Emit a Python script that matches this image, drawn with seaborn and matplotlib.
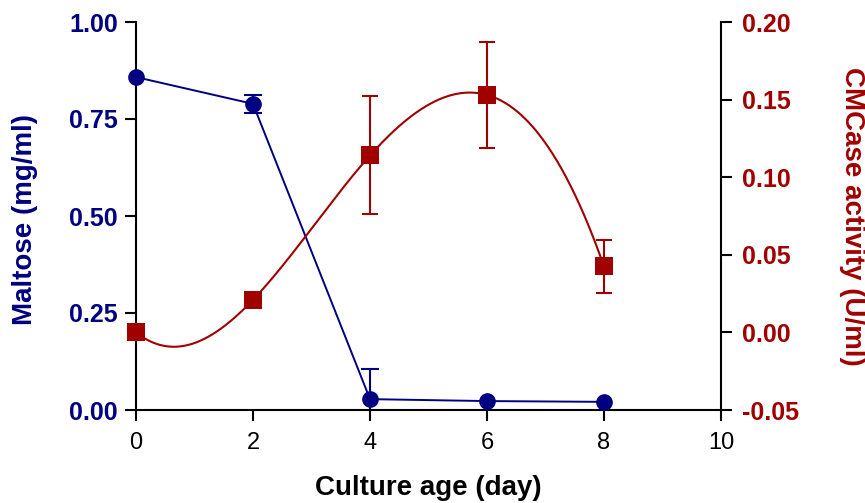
import matplotlib
matplotlib.use("Agg")
import matplotlib.pyplot as plt
import numpy as np
import pandas as pd
import seaborn as sns

# values
days = [0, 2, 4, 6, 8]
maltose = [0.858, 0.789, 0.028, 0.023, 0.021]
maltose_err = [0.0, 0.023, 0.077, 0.0, 0.0]
cmcase = [0.000, 0.021, 0.114, 0.153, 0.0425]
cmcase_err = [0.0, 0.0, 0.038, 0.034, 0.017]

x_ticks = [0, 2, 4, 6, 8, 10]
left_ticks = [0.00, 0.25, 0.50, 0.75, 1.00]
right_ticks = [-0.05, 0.00, 0.05, 0.10, 0.15, 0.20]

navy = "#000080"
red = "#A00000"


def spline_curve(x, y, n=400):
    # cubic spline (not-a-knot ends) through the points, for the smooth curve
    x = np.asarray(x, float)
    y = np.asarray(y, float)
    k = len(x)
    h = np.diff(x)
    A = np.zeros((k, k))
    b = np.zeros(k)
    A[0, 0], A[0, 1], A[0, 2] = h[1], -(h[0] + h[1]), h[0]
    A[-1, -3], A[-1, -2], A[-1, -1] = h[-1], -(h[-2] + h[-1]), h[-2]
    for i in range(1, k - 1):
        A[i, i - 1] = h[i - 1]
        A[i, i] = 2 * (h[i - 1] + h[i])
        A[i, i + 1] = h[i]
        b[i] = 6 * ((y[i + 1] - y[i]) / h[i] - (y[i] - y[i - 1]) / h[i - 1])
    M = np.linalg.solve(A, b)
    xs = np.linspace(x[0], x[-1], n)
    idx = np.clip(np.searchsorted(x, xs) - 1, 0, k - 2)
    x0, x1 = x[idx], x[idx + 1]
    hh = x1 - x0
    t0, t1 = x1 - xs, xs - x0
    ys = (M[idx] * t0 ** 3 + M[idx + 1] * t1 ** 3) / (6 * hh) \
        + (y[idx] / hh - M[idx] * hh / 6) * t0 \
        + (y[idx + 1] / hh - M[idx + 1] * hh / 6) * t1
    return xs, ys


sns.set_theme(style="ticks")
plt.rcParams["font.family"] = ["Liberation Sans", "DejaVu Sans"]

fig = plt.figure(figsize=(8.65, 5.03), dpi=100)
ax = fig.add_axes([136 / 865, 1 - 410 / 503, (721 - 136) / 865, (410 - 22) / 503])
ax2 = ax.twinx()

df_m = pd.DataFrame({"day": days, "maltose": maltose, "err": maltose_err})
df_c = pd.DataFrame({"day": days, "cmcase": cmcase, "err": cmcase_err})

# maltose: straight segments, circles
em = df_m[df_m["err"] > 0]
ax.errorbar(em["day"], em["maltose"], yerr=em["err"], fmt="none", ecolor=navy,
            elinewidth=1.5, capsize=6.5, capthick=1.5, zorder=2)
sns.lineplot(data=df_m, x="day", y="maltose", ax=ax, color=navy, linewidth=1.4,
             marker="o", markersize=12, markeredgewidth=0, zorder=3)
ax.lines[-1].set_clip_on(False)

# cmcase: spline curve, squares
xs, ys = spline_curve(days, cmcase)
sns.lineplot(x=xs, y=ys, ax=ax2, color=red, linewidth=1.5, zorder=2)
ec = df_c[df_c["err"] > 0]
ax2.errorbar(ec["day"], ec["cmcase"], yerr=ec["err"], fmt="none", ecolor=red,
             elinewidth=1.5, capsize=6, capthick=1.5, zorder=2)
sns.scatterplot(data=df_c, x="day", y="cmcase", ax=ax2, color=red, marker="s",
                s=150, linewidth=0, zorder=4, clip_on=False)

ax.set_xlim(0, 10)
ax.set_ylim(0, 1.0)
ax2.set_ylim(-0.05, 0.20)

ax.set_xticks(x_ticks, [str(v) for v in x_ticks], fontsize=17, color="black")
ax.set_yticks(left_ticks, [f"{v:.2f}" for v in left_ticks], fontsize=18,
              fontweight="bold", color=navy)
ax2.set_yticks(right_ticks, [f"{v:.2f}" for v in right_ticks], fontsize=18,
               fontweight="bold", color=red)

for a in (ax, ax2):
    a.tick_params(direction="out", length=8, width=1.5, color="black")
    for s in a.spines.values():
        s.set_linewidth(1.5)
        s.set_color("black")
    a.spines["top"].set_visible(False)
ax.spines["right"].set_visible(False)
ax2.spines["left"].set_visible(False)
ax2.spines["bottom"].set_visible(False)
ax.tick_params(axis="x", pad=8)
ax.tick_params(axis="y", pad=5)
ax2.tick_params(axis="y", pad=7)

ax.set_xlabel("Culture age (day)", fontsize=20, fontweight="bold", color="black",
              va="center")
ax.xaxis.set_label_coords(0.5, -0.201)
ax.set_ylabel("Maltose (mg/ml)", fontsize=20, fontweight="bold", color=navy, va="center")
ax.yaxis.set_label_coords(-0.19, 0.49)
ax2.set_ylabel("CMCase activity (U/ml)", fontsize=20, fontweight="bold", color=red,
               rotation=270, va="center")
ax2.yaxis.set_label_coords(1.224, 0.5)

fig.savefig("out.png", dpi=100)
